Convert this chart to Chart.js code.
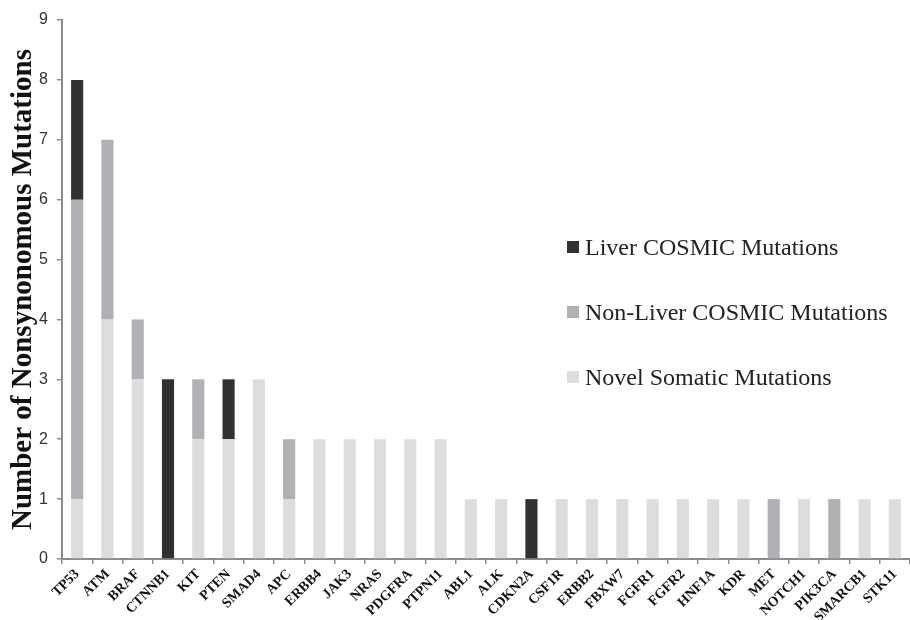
<!DOCTYPE html>
<html>
<head>
<meta charset="utf-8">
<script src="https://cdn.jsdelivr.net/npm/chart.js@4/dist/chart.umd.min.js"></script>
<style>
  html, body { margin: 0; padding: 0; background: #fff; }
  #wrap { position: relative; width: 910px; height: 620px; }
  #legend { position: absolute; left: 567px; top: 0; font-family: "Liberation Serif", "Times New Roman", serif; font-size: 24px; color: #222; }
  .row { position: absolute; left: 0; white-space: nowrap; display: flex; align-items: center; height: 30px; }
  .sw { width: 12px; height: 12px; margin-right: 6px; }
</style>
</head>
<body>
<div id="wrap">
  <canvas id="chart" width="910" height="620"></canvas>
  <div id="legend"></div>
</div>
<script>
const genes = ['TP53', 'ATM', 'BRAF', 'CTNNB1', 'KIT', 'PTEN', 'SMAD4', 'APC', 'ERBB4', 'JAK3', 'NRAS', 'PDGFRA', 'PTPN11', 'ABL1',
  'ALK', 'CDKN2A', 'CSF1R', 'ERBB2', 'FBXW7', 'FGFR1', 'FGFR2', 'HNF1A', 'KDR', 'MET', 'NOTCH1', 'PIK3CA', 'SMARCB1', 'STK11'];
const novelSomatic = [1, 4, 3, 0, 2, 2, 3, 1, 2, 2, 2, 2, 2, 1, 1, 0, 1, 1, 1, 1, 1, 1, 1, 0, 1, 0, 1, 1];
const nonLiverCosmic = [5, 3, 1, 0, 1, 0, 0, 1, 0, 0, 0, 0, 0, 0, 0, 0, 0, 0, 0, 0, 0, 0, 0, 1, 0, 1, 0, 0];
const liverCosmic = [2, 0, 0, 3, 0, 1, 0, 0, 0, 0, 0, 0, 0, 0, 0, 1, 0, 0, 0, 0, 0, 0, 0, 0, 0, 0, 0, 0];
const yTicks = [0, 1, 2, 3, 4, 5, 6, 7, 8, 9];

const axisGrey = '#8c8c8c';

// legend, top to bottom
const legendItems = [
  { label: 'Liver COSMIC Mutations', color: '#323031' },
  { label: 'Non-Liver COSMIC Mutations', color: '#b0b1b4' },
  { label: 'Novel Somatic Mutations', color: '#dcdddf' },
];
const legendEl = document.getElementById('legend');
legendItems.forEach((it, i) => {
  const row = document.createElement('div');
  row.className = 'row';
  row.style.top = (232 + i * 65) + 'px';
  row.innerHTML = '<span class="sw" style="background:' + it.color + '"></span><span>' + it.label + '</span>';
  legendEl.appendChild(row);
});

const ctx = document.getElementById('chart').getContext('2d');
new Chart(ctx, {
  type: 'bar',
  data: {
    labels: genes,
    datasets: [
      { label: 'Novel Somatic Mutations', data: novelSomatic, backgroundColor: '#dcdddf' },
      { label: 'Non-Liver COSMIC Mutations', data: nonLiverCosmic, backgroundColor: '#b0b1b4' },
      { label: 'Liver COSMIC Mutations', data: liverCosmic, backgroundColor: '#323031' },
    ]
  },
  options: {
    responsive: false,
    animation: false,
    layout: { padding: { top: 20, right: 0, left: 0, bottom: 0 } },
    datasets: { bar: { categoryPercentage: 1, barPercentage: 0.4 } },
    plugins: {
      legend: { display: false },
      tooltip: { enabled: false }
    },
    scales: {
      x: {
        stacked: true,
        grid: { display: true, offset: true, drawOnChartArea: false, drawTicks: true, tickLength: 5, color: axisGrey, lineWidth: 1.5 },
        border: { display: true, color: axisGrey, width: 2 },
        ticks: {
          autoSkip: false,
          maxRotation: 45,
          minRotation: 45,
          padding: 2,
          color: '#111',
          font: { family: '"Liberation Serif", "Times New Roman", serif', size: 14, weight: 'bold' }
        },
        afterFit: function (scale) { scale.height = 61; }
      },
      y: {
        stacked: true,
        min: 0,
        max: 9,
        afterBuildTicks: function (scale) { scale.ticks = yTicks.map(v => ({ value: v })); },
        grid: { display: true, drawOnChartArea: false, drawTicks: true, tickLength: 5, color: axisGrey, lineWidth: 1.5 },
        border: { display: true, color: axisGrey, width: 2 },
        ticks: {
          padding: 9,
          color: '#333',
          font: { family: '"Liberation Sans", Arial, sans-serif', size: 16 }
        },
        title: {
          display: true,
          text: 'Number of Nonsynonomous Mutations',
          color: '#111',
          padding: { top: 6, bottom: 0 },
          font: { family: '"Liberation Serif", "Times New Roman", serif', size: 29, weight: 'bold' }
        },
        afterFit: function (scale) { scale.width = 62; }
      }
    }
  }
});
</script>
</body>
</html>
